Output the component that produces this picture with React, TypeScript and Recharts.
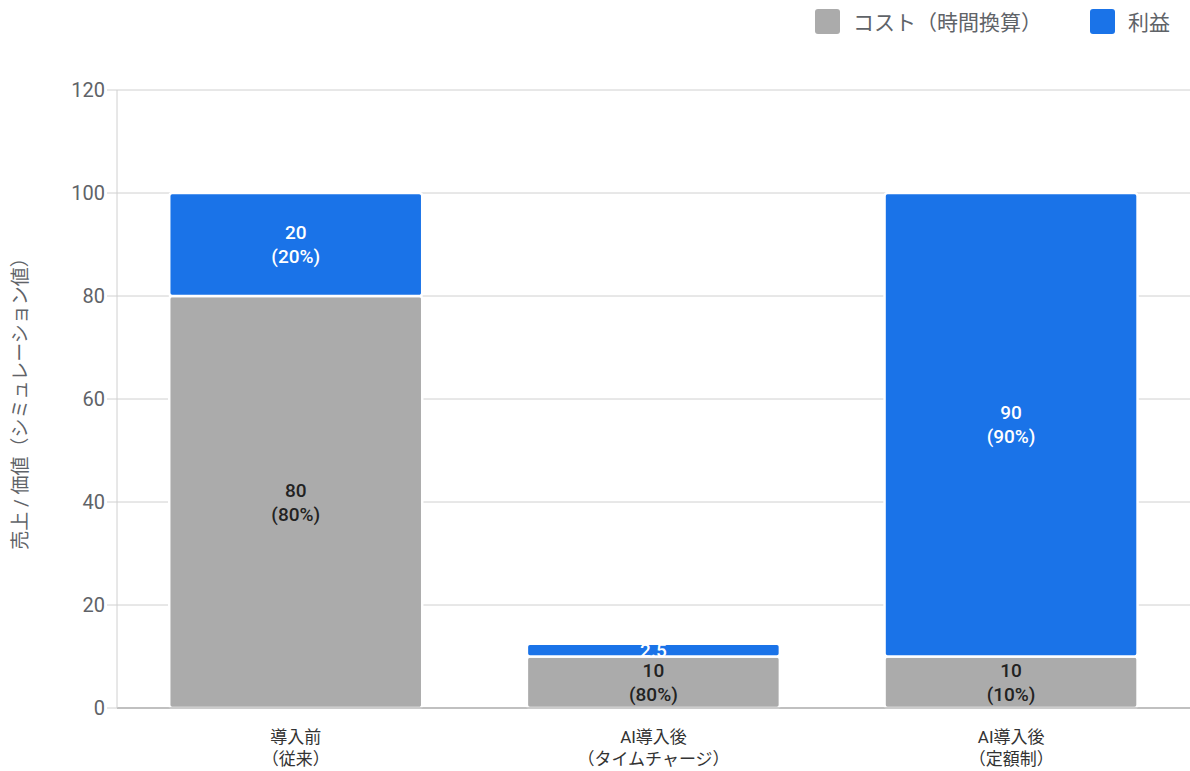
import React from "react";
import { BarChart, Bar, XAxis, YAxis, CartesianGrid, LabelList } from "recharts";

const categories = ["導入前\n（従来）", "AI導入後\n（タイムチャージ）", "AI導入後\n（定額制）"];
const costValues = [80, 10, 10];
const profitValues = [20, 2.5, 90];
const yTicks = [0, 20, 40, 60, 80, 100, 120];

const COST_COLOR = "#ababab";
const PROFIT_COLOR = "#1a73e8";
const FONT = "Roboto, 'Noto Sans CJK JP', sans-serif";

const data = categories.map((name, i) => ({
  name,
  cost: costValues[i],
  profit: profitValues[i],
  total: costValues[i] + profitValues[i],
}));

function makeLabel(key: "cost" | "profit", color: string) {
  return (props: any) => {
    const { x, y, width, height, index } = props;
    const row = data[index];
    const v = row[key];
    const pct = Math.round((v / row.total) * 100);
    const cx = x + width / 2;
    const cy = y + height / 2;
    const clipId = `clip-${key}-${index}`;
    return (
      <g>
        <defs>
          <clipPath id={clipId}>
            <rect x={x} y={y} width={width} height={height} />
          </clipPath>
        </defs>
        <g clipPath={`url(#${clipId})`} fontFamily={FONT} fontSize={19} fontWeight={500} fill={color} textAnchor="middle">
          {height < 40 ? (
            <text x={cx} y={cy} dominantBaseline="central">{v}</text>
          ) : (
            <>
              <text x={cx} y={cy - 12} dominantBaseline="central">{v}</text>
              <text x={cx} y={cy + 12} dominantBaseline="central">({pct}%)</text>
            </>
          )}
        </g>
      </g>
    );
  };
}

function CategoryTick(props: any) {
  const { x, y, payload } = props;
  const lines = String(payload.value).split("\n");
  return (
    <g transform={`translate(${x},${y})`}>
      {lines.map((l, i) => (
        <text key={i} x={0} y={27 + i * 22} textAnchor="middle" fontFamily={FONT} fontSize={17} fill="#333">
          {l}
        </text>
      ))}
    </g>
  );
}

function LegendBox() {
  const items = [
    { label: "コスト（時間換算）", color: COST_COLOR },
    { label: "利益", color: PROFIT_COLOR },
  ];
  return (
    <div style={{ position: "absolute", top: 6, right: 20, display: "flex", alignItems: "center", fontFamily: FONT, fontSize: 21, color: "#5f6368" }}>
      {items.map((it) => (
        <div key={it.label} style={{ display: "flex", alignItems: "center", marginLeft: 48 }}>
          <span style={{ width: 25, height: 25, background: it.color, borderRadius: 3, display: "inline-block", marginRight: 13 }} />
          <span>{it.label}</span>
        </div>
      ))}
    </div>
  );
}

export default function App() {
  return (
    <div style={{ position: "absolute", left: 0, top: 0, width: 1190, height: 771, background: "#fff", overflow: "hidden" }}>
      <BarChart
        width={1190}
        height={771}
        data={data}
        margin={{ top: 90, right: 0, left: 0, bottom: 0 }}
        barCategoryGap="14.6%"
      >
        <CartesianGrid vertical={false} stroke="#d0d0d0" />
        <XAxis
          dataKey="name"
          height={63}
          tick={<CategoryTick />}
          tickLine={false}
          axisLine={{ stroke: "#999" }}
          interval={0}
        />
        <YAxis
          width={117}
          domain={[0, 120]}
          ticks={yTicks}
          tick={{ fontFamily: FONT, fontSize: 20, fill: "#5f6368" }}
          tickLine={{ stroke: "#d0d0d0" }}
          tickSize={10}
          axisLine={{ stroke: "#d0d0d0" }}
          label={{
            value: "売上 / 価値（シミュレーション値）",
            angle: -90,
            position: "insideLeft",
            offset: 20,
            style: { fontFamily: FONT, fontSize: 19, fill: "#5f6368", textAnchor: "middle" },
          }}
        />
        <Bar dataKey="cost" stackId="a" fill={COST_COLOR} stroke="#fff" strokeWidth={2.5} radius={3} isAnimationActive={false}>
          <LabelList dataKey="cost" content={makeLabel("cost", "#222")} />
        </Bar>
        <Bar dataKey="profit" stackId="a" fill={PROFIT_COLOR} stroke="#fff" strokeWidth={2.5} radius={3} isAnimationActive={false}>
          <LabelList dataKey="profit" content={makeLabel("profit", "#fff")} />
        </Bar>
      </BarChart>
      <LegendBox />
    </div>
  );
}
